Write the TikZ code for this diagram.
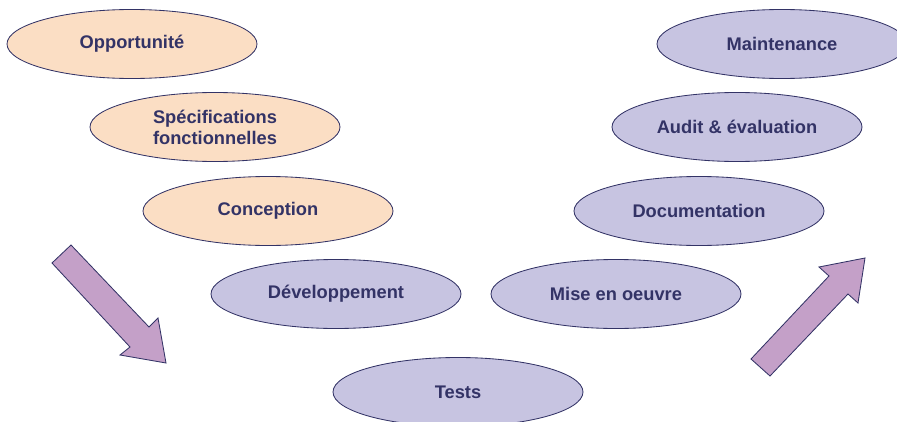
\documentclass[tikz,border=0pt]{standalone}
\usepackage{fontspec}
\setmainfont{Liberation Sans}
\usepackage{xcolor}
\usepackage{tikz}
\usetikzlibrary{shapes,arrows,positioning,calc}

\definecolor{peach}{RGB}{251,222,196}
\definecolor{lavender}{RGB}{199,196,225}
\definecolor{mauve}{RGB}{196,160,200}
\definecolor{navy}{RGB}{51,51,102}

\tikzset{
    phase/.style={ellipse, draw=navy, line width=0.6pt, inner sep=0pt,
        minimum width=6.25cm, minimum height=1.725cm, align=center,
        text=navy, font=\fontsize{13}{15}\selectfont\bfseries},
    early/.style={phase, fill=peach},
    late/.style={phase, fill=lavender},
    bigarrow/.style={draw=navy, line width=0.6pt, fill=mauve, line join=miter}
}

\begin{document}
\begin{tikzpicture}
    \useasboundingbox (0,0) rectangle (22.425,10.525);
    \clip (0,0) rectangle (22.425,10.525);
    % descending branch
    \node[early] (opp) at (3.30,9.425) {Opportunité};
    \node[early] (spec) at (5.375,7.35) {Spécifications\\fonctionnelles};
    \node[early] (conc) at (6.70,5.25) {Conception};
    \node[late] (dev) at (8.40,3.175) {Développement};
    \node[late] (tests) at (11.45,0.725) {Tests};
    % ascending branch
    \node[late] (mise) at (15.40,3.175) {Mise en oeuvre};
    \node[late] (doc) at (17.475,5.25) {Documentation};
    \node[late] (audit) at (18.425,7.35) {Audit \& évaluation};
    \node[late] (maint) at (19.55,9.425) {Maintenance};
    % block arrows
    \draw[bigarrow] (1.775,4.40) -- (3.725,2.35) -- (3.95,2.575) -- (4.15,1.45)
        -- (3.00,1.65) -- (3.25,1.85) -- (1.30,3.95) -- cycle;
    \draw[bigarrow] (18.775,1.55) -- (20.725,3.625) -- (20.475,3.85) -- (21.625,4.075)
        -- (21.45,2.95) -- (21.20,3.175) -- (19.25,1.125) -- cycle;
\end{tikzpicture}
\end{document}
